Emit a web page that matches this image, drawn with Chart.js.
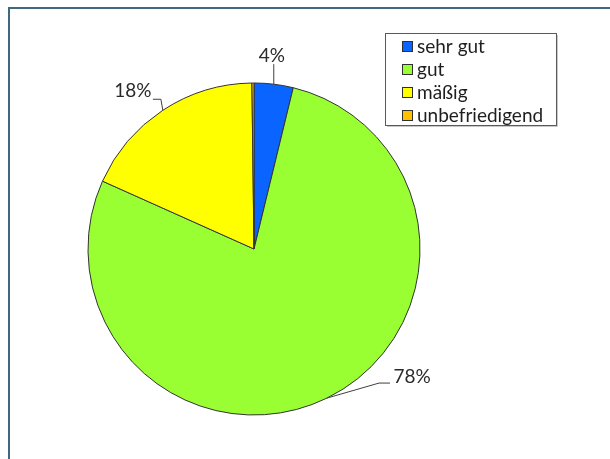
<!DOCTYPE html>
<html>
<head>
<meta charset="utf-8">
<script src="https://cdn.jsdelivr.net/npm/chart.js@4.4.0/dist/chart.umd.min.js"></script>
<style>
  html, body { margin: 0; padding: 0; background: #ffffff; }
  #wrap { width: 610px; height: 459px; position: relative; }
</style>
</head>
<body>
<div id="wrap"><canvas id="c" width="610" height="459"></canvas></div>
<script>
const categories = ['sehr gut', 'gut', 'mäßig', 'unbefriedigend'];
const values = [3.8, 77.9, 18.1, 0.2];
const sliceColors = ['#0A64FF', '#99FF33', '#FFFF00', '#FFC000'];

const fontFamily = 'Lato, "Open Sans", sans-serif';

// label placement (style): text centre offset from the slice's outer midpoint, leader path offsets
const labelLayout = {
  0: { text: [-2, -28], path: [[0, 0], [0, -20]] },
  1: { text: [85, -21], path: [[0, 0], [52, -15], [63, -15]] },
  2: { text: [-30, -19], path: [[0, 0], [-2, -11], [-10, -11]] }
};

const framePlugin = {
  id: 'frame',
  beforeDraw(chart) {
    const ctx = chart.ctx;
    ctx.save();
    ctx.fillStyle = '#ffffff';
    ctx.fillRect(0, 0, chart.width, chart.height);
    ctx.fillStyle = '#3E6A80';
    ctx.fillRect(8, 7, chart.width - 8, 2);
    ctx.fillRect(8, 7, 2, chart.height - 7);
    ctx.restore();
  }
};

const labelPlugin = {
  id: 'pctLabels',
  afterDatasetsDraw(chart) {
    const ctx = chart.ctx;
    const meta = chart.getDatasetMeta(0);
    const data = chart.data.datasets[0].data;
    const total = data.reduce((a, b) => a + b, 0);
    ctx.save();
    meta.data.forEach((arc, i) => {
      const pct = Math.round(data[i] / total * 100);
      const lay = labelLayout[i];
      if (!lay || pct === 0) return;
      const p = arc.getProps(['x', 'y', 'startAngle', 'endAngle', 'outerRadius'], true);
      const mid = (p.startAngle + p.endAngle) / 2;
      const ax = p.x + Math.cos(mid) * p.outerRadius;
      const ay = p.y + Math.sin(mid) * p.outerRadius;
      ctx.strokeStyle = '#404040';
      ctx.lineWidth = 1;
      ctx.beginPath();
      lay.path.forEach((pt, k) => {
        const x = ax + pt[0], y = ay + pt[1];
        if (k === 0) ctx.moveTo(x, y); else ctx.lineTo(x, y);
      });
      ctx.stroke();
      ctx.fillStyle = '#2a2a2a';
      ctx.font = '19px ' + fontFamily;
      ctx.textAlign = 'center';
      ctx.textBaseline = 'middle';
      ctx.fillText(pct + '%', ax + lay.text[0], ay + lay.text[1]);
    });
    ctx.restore();
  }
};

const legendPlugin = {
  id: 'boxLegend',
  afterDraw(chart) {
    const ctx = chart.ctx;
    const x0 = 385, y0 = 33, w = 171, h = 92;
    ctx.save();
    // soft shadow
    ctx.strokeStyle = '#c8c8c8';
    ctx.lineWidth = 1;
    ctx.beginPath();
    ctx.moveTo(x0 + w + 1.5, y0 + 2);
    ctx.lineTo(x0 + w + 1.5, y0 + h + 1.5);
    ctx.lineTo(x0 + 2, y0 + h + 1.5);
    ctx.stroke();
    ctx.strokeStyle = '#5a5a5a';
    ctx.strokeRect(x0 + 0.5, y0 + 0.5, w, h);
    const labels = chart.data.labels;
    const colors = chart.data.datasets[0].backgroundColor;
    ctx.font = '19px ' + fontFamily;
    ctx.textBaseline = 'middle';
    ctx.textAlign = 'left';
    labels.forEach((lab, i) => {
      const cy = 46.5 + i * 23;
      ctx.fillStyle = colors[i];
      ctx.fillRect(402, cy - 5.5, 11, 11);
      ctx.strokeStyle = '#303030';
      ctx.strokeRect(402.5, cy - 5, 10, 10);
      ctx.fillStyle = '#1e1e1e';
      ctx.fillText(lab, 417, cy);
    });
    ctx.restore();
  }
};

new Chart(document.getElementById('c'), {
  type: 'pie',
  data: {
    labels: categories,
    datasets: [{
      data: values,
      backgroundColor: sliceColors,
      borderColor: '#333333',
      borderWidth: 1,
      hoverOffset: 0
    }]
  },
  options: {
    responsive: false,
    animation: false,
    radius: 166,
    layout: { padding: { left: 0, right: 102, top: 39, bottom: 0 } },
    plugins: {
      legend: { display: false },
      tooltip: { enabled: false }
    },
    events: []
  },
  plugins: [framePlugin, labelPlugin, legendPlugin]
});
</script>
</body>
</html>
